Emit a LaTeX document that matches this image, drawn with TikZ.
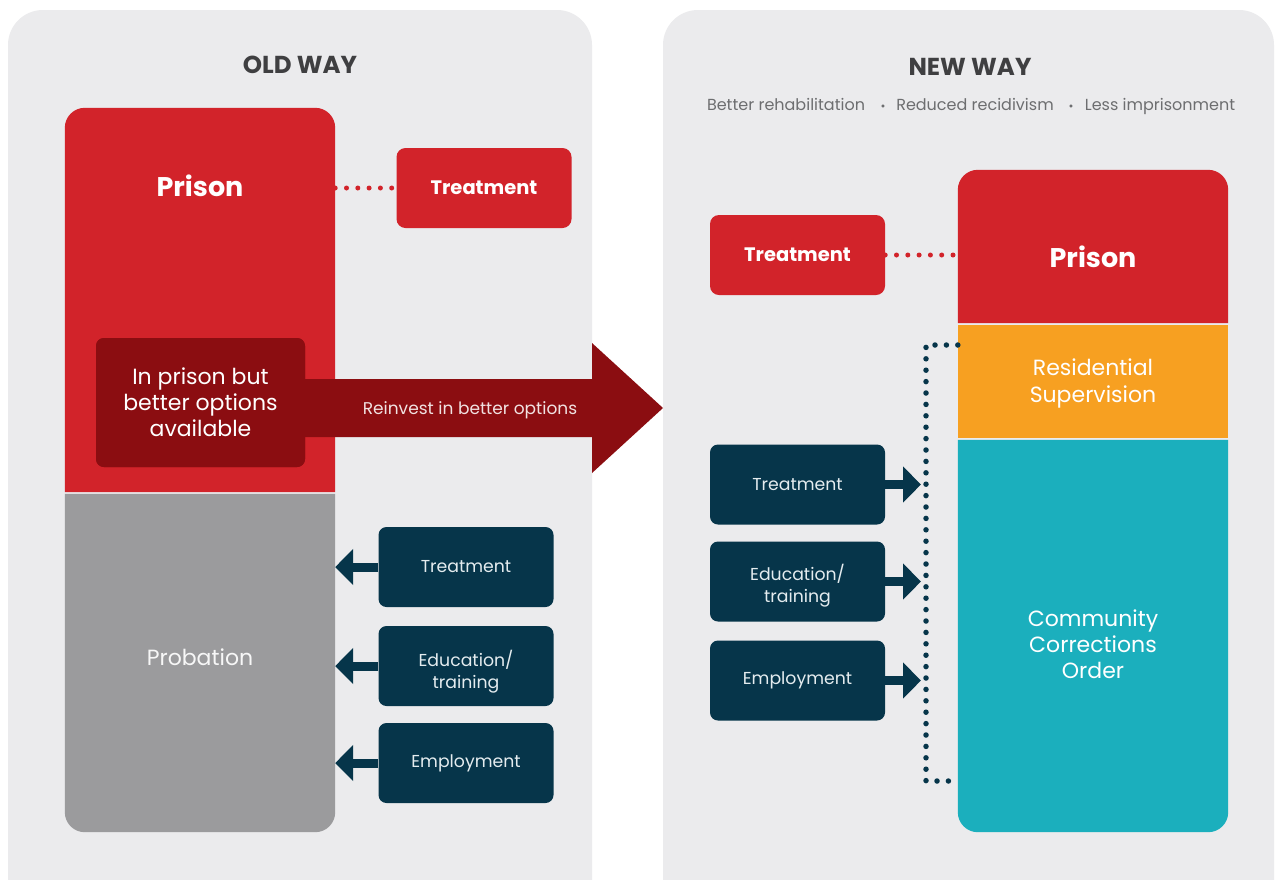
\documentclass[tikz,border=0pt]{standalone}
\usepackage{fontspec}
\setmainfont{Poppins}
\usetikzlibrary{arrows.meta,calc}
\definecolor{cPanel}{HTML}{EBEBED}
\definecolor{cRed}{HTML}{D2232A}
\definecolor{cDarkRed}{HTML}{8B0D11}
\definecolor{cGray}{HTML}{9B9B9D}
\definecolor{cNavy}{HTML}{06354A}
\definecolor{cNavyTxt}{HTML}{E4ECEF}
\definecolor{cOrange}{HTML}{F7A021}
\definecolor{cTeal}{HTML}{1BAFBD}
\definecolor{cHead}{HTML}{3F3F41}
\definecolor{cSub}{HTML}{6D6E70}
\newcommand\myfs[2]{\fontsize{#1}{#2}\selectfont}
\tikzset{
  panel/.style={fill=cPanel, rounded corners=35pt},
  blockshape/.style={inner sep=0pt, draw=none, minimum width=270pt},
  navybox/.style={fill=cNavy, rounded corners=8pt, minimum width=175pt, minimum height=80pt,
    inner sep=0pt, text=cNavyTxt, font=\myfs{17.3}{22}, align=center},
  navytxt/.style={text=cNavyTxt, font=\myfs{17.3}{22}, align=center, inner sep=0pt},
  redbox/.style={fill=cRed, rounded corners=9pt, minimum width=175pt, minimum height=80pt,
    inner sep=0pt, text=white, font=\bfseries\myfs{19.5}{22}},
  reddot/.style={draw=cRed, line width=5pt, line cap=round, dash pattern=on 0pt off 11.3pt},
  navydot/.style={draw=cNavy, line width=5.5pt, line cap=round, dash pattern=on 0pt off 11.4pt},
  navyarrow/.style={draw=cNavy, line width=9pt, -{Triangle[length=18pt,width=35pt]}},
  biglbl/.style={text=white, font=\bfseries\myfs{27}{30}},
  midlbl/.style={font=\myfs{22}{26}, align=center},
  sublbl/.style={text=cSub, font=\myfs{16}{18}, anchor=base},
  headlbl/.style={text=cHead, font=\bfseries\myfs{24.5}{28}},
}
\begin{document}
\begin{tikzpicture}[x=1pt,y=-1pt]
\useasboundingbox (0,0) rectangle (1276,879);
\clip (0,0) rectangle (1276,879);
\fill[white] (0,0) rectangle (1276,879);
% panels
\fill[panel] (8,10) rectangle (592,930);
\fill[panel] (663,10) rectangle (1274,930);
% headings
\node[headlbl] (oldhead) at (300,65) {OLD WAY};
\node[headlbl] (newhead) at (970,67) {NEW WAY};
\node[sublbl] (sub1) at (786,110.5) {Better rehabilitation};
\node[sublbl] (b1) at (883,110.5) {\large•};
\node[sublbl] (sub2) at (975,110.5) {Reduced recidivism};
\node[sublbl] (b2) at (1071,110.5) {\large•};
\node[sublbl] (sub3) at (1160,110.5) {Less imprisonment};

% ---------- OLD WAY ----------
\node[blockshape, minimum height=384pt] (oprison) at (200,300) {};
\fill[cRed] (oprison.south west) [rounded corners=20pt] -- (oprison.north west) -- (oprison.north east) [sharp corners] -- (oprison.south east) -- cycle;
\node[blockshape, minimum height=338pt] (oprob) at (200,663) {};
\fill[cGray] (oprob.north east) [rounded corners=20pt] -- (oprob.south east) -- (oprob.south west) [sharp corners] -- (oprob.north west) -- cycle;
\node[biglbl] (oprisonlbl) at (200,186) {Prison};
\node[midlbl, text=white!92!cGray] (oproblbl) at (200,657) {Probation};

% big arrow
\coordinate (tip) at (663,408);
\node[fill=cDarkRed, rounded corners=8pt, minimum width=209pt, minimum height=129pt, inner sep=0pt] (avail) at (200.5,402.5) {};
\fill[cDarkRed] (tip) -- (592,343) -- (592,379) -- (avail.center |- 0,379) -- (avail.center |- 0,437) -- (592,437) -- (592,473) -- cycle;
\node[fill=cDarkRed, rounded corners=8pt, minimum width=209pt, minimum height=129pt, inner sep=0pt, midlbl, text=white] (availtxt) at (avail.center) {In prison but\\better options\\available};
\node[text=white!88!cDarkRed, font=\myfs{17}{20}] (reinvest) at (470,410) {Reinvest in better options};

% old treatment (red)
\node[redbox] (otreat) at (484,188) {Treatment};
\draw[reddot] (oprison.east |- otreat.west) -- (otreat.west);

% old navy boxes
\node[navybox] (otreat2) at (466,567) {Treatment};
\node[navybox] (oedu) at (466,666) {};
\node[navytxt] (oedutxt) at ($(oedu.center)+(0,6)$) {Education/\\training};
\node[navybox] (oemp) at (466,763) {Employment};
\draw[navyarrow] (otreat2.west) -- (oprob.east |- otreat2.west);
\draw[navyarrow] (oedu.west) -- (oprob.east |- oedu.west);
\draw[navyarrow] (oemp.west) -- (oprob.east |- oemp.west);

% ---------- NEW WAY ----------
\node[blockshape, minimum height=153pt] (nprison) at (1093,246.5) {};
\fill[cRed] (nprison.south west) [rounded corners=20pt] -- (nprison.north west) -- (nprison.north east) [sharp corners] -- (nprison.south east) -- cycle;
\node[blockshape, minimum height=113pt, fill=cOrange] (nres) at (1093,381.5) {};
\node[blockshape, minimum height=392pt] (ncco) at (1093,636) {};
\fill[cTeal] (ncco.north east) [rounded corners=20pt] -- (ncco.south east) -- (ncco.south west) [sharp corners] -- (ncco.north west) -- cycle;
\node[biglbl] (nprisonlbl) at (1093,257) {Prison};
\node[midlbl, text=white, font=\myfs{22}{27}] (nreslbl) at (1093,383) {Residential\\Supervision};
\node[midlbl, text=white] (nccolbl) at (1093,644) {Community\\Corrections\\Order};

\node[redbox] (ntreat) at (797.5,255) {Treatment};
\draw[reddot] (ntreat.east) -- (nprison.west |- ntreat.east);

\node[navybox] (ntreat2) at (797.5,484.5) {Treatment};
\node[navybox] (nedu) at (797.5,581.5) {};
\node[navytxt] (nedutxt) at ($(nedu.center)+(0,4)$) {Education/\\training};
\node[navybox] (nemp) at (797.5,680.5) {Employment};

\coordinate (brtop) at (926,345);
\coordinate (brbot) at (926,781);
\draw[navydot] (nres.west |- brtop) -- (brtop) -- (brbot) -- (ncco.west |- brbot);
\draw[navyarrow] (ntreat2.east) -- ($(ntreat2.east -| brtop)+(-5,0)$);
\draw[navyarrow] (nedu.east) -- ($(nedu.east -| brtop)+(-5,0)$);
\draw[navyarrow] (nemp.east) -- ($(nemp.east -| brtop)+(-5,0)$);
\end{tikzpicture}
\end{document}
